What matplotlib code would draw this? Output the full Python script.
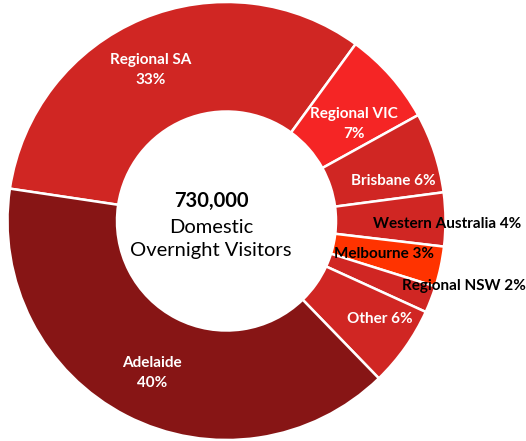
import matplotlib
matplotlib.use('Agg')
import matplotlib.pyplot as plt

# ─── Data ──────────────────────────────────────────────────────
regions = ['Regional SA', 'Regional VIC', 'Brisbane', 'Western Australia',
           'Melbourne', 'Regional NSW', 'Other', 'Adelaide']
shares = [33, 7, 6, 4, 3, 2, 6, 40]
label_texts = ['Regional SA\n33%', 'Regional VIC\n7%', 'Brisbane 6%',
               'Western Australia 4%', 'Melbourne 3%', 'Regional NSW 2%',
               'Other 6%', 'Adelaide\n40%']
total_visitors = '730,000'
centre_caption = 'Domestic\nOvernight Visitors'

# ─── Style ─────────────────────────────────────────────────────
colors = ['#D02623', '#F52525', '#D02623', '#D02623',
          '#FF3300', '#D02623', '#D02623', '#871515']
label_colors = ['white', 'white', 'white', 'black',
                'black', 'black', 'white', 'white']
# label anchor in pixel coords of the 526x441 image
label_px = [(151, 70), (354, 124), (393, 181), (447, 224),
            (384, 254), (464, 286), (380, 319), (152, 373)]

W, H = 526, 441
CX, CY, R = 226.5, 221, 219

fig = plt.figure(figsize=(W / 100, H / 100), dpi=100)
fig.patch.set_facecolor('white')
ax = fig.add_axes([(CX - R) / W, (H - CY - R) / H, 2 * R / W, 2 * R / H])

ax.pie(shares, colors=colors, startangle=171.5, counterclock=False, radius=1,
       wedgeprops=dict(width=0.5, edgecolor='white', linewidth=1.8))
ax.set_xlim(-1, 1)
ax.set_ylim(-1, 1)
ax.axis('off')

for txt, col, (px, py) in zip(label_texts, label_colors, label_px):
    x = (px - CX) / R
    y = (CY - py) / R
    ax.text(x, y, txt, color=col, fontsize=11, fontweight='bold',
            family='Lato', ha='center', va='center', linespacing=1.5,
            clip_on=False)

# centre caption (sits slightly left of the ring's centre)
tx = (211 - CX) / R
ax.text(tx, (CY - 201) / R, total_visitors, fontsize=14.5, fontweight='bold',
        family='Lato', ha='center', va='center')
ax.text(tx, (CY - 239) / R, centre_caption, fontsize=14.5, family='Lato',
        ha='center', va='center', linespacing=1.45)

plt.savefig('out.png', dpi=100, facecolor='white')
